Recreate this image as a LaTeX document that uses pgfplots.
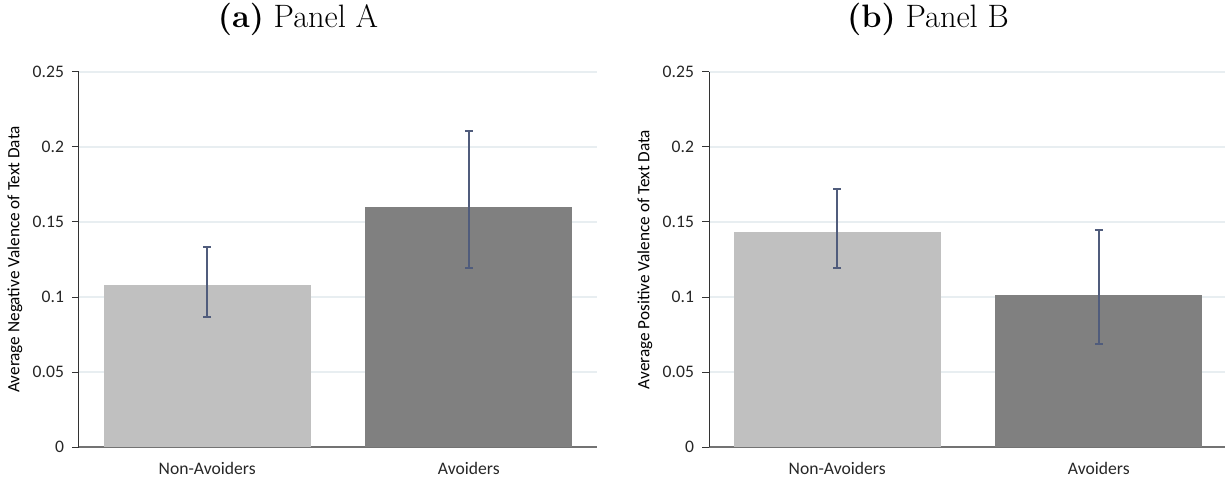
\documentclass[border=0pt]{standalone}
\usepackage{pgfplots}
\pgfplotsset{compat=1.18}
\usepackage{fontspec}
\setsansfont{Carlito}
\definecolor{lightbar}{HTML}{C0C0C0}
\definecolor{darkbar}{HTML}{808080}
\definecolor{errc}{HTML}{505C7C}
\definecolor{gridc}{HTML}{E8EEF1}
\pgfplotsset{
  panel/.style={
    scale only axis,
    width=259pt, height=187.5pt,
    xmin=-0.49, xmax=1.49, ymin=0, ymax=0.25,
    axis lines*=left,
    x axis line style={-, draw=black!55, line width=1.1pt},
    y axis line style={-, draw=black!80, line width=0.5pt},
    xtick={0,1}, xticklabels={Non-Avoiders,Avoiders},
    xtick style={draw=none},
    ytick={0,0.05,0.1,0.15,0.2,0.25},
    yticklabels={0,0.05,0.1,0.15,0.2,0.25},
    ytick style={draw=black!80, line width=0.5pt},
    tick align=outside, major tick length=3.5pt,
    ymajorgrids, grid style={gridc, line width=0.6pt},
    ticklabel style={font=\sffamily\fontsize{8.8}{10}\selectfont, text=black!85},
    yticklabel style={xshift=-0.5pt},
    xticklabel style={yshift=-0.5pt},
    ylabel style={at={(axis description cs:-0.1236,0.5)}, anchor=center, rotate=0, font=\sffamily\fontsize{8.6}{10}\selectfont},
  },
  barA/.style={ybar, bar width=103.5pt, bar shift=0pt, draw=none, fill=lightbar,
    error bars/.cd, y dir=both, y explicit,
    error bar style={errc, line width=0.9pt},
    error mark options={errc, rotate=90, mark size=2pt, line width=0.9pt}},
  barB/.style={ybar, bar width=103.5pt, bar shift=0pt, draw=none, fill=darkbar,
    error bars/.cd, y dir=both, y explicit,
    error bar style={errc, line width=0.9pt},
    error mark options={errc, rotate=90, mark size=2pt, line width=0.9pt}},
}
\begin{document}
\begin{tikzpicture}
\useasboundingbox (-39.5pt,-15pt) rectangle (573pt,223.5pt);
\begin{axis}[panel, at={(0pt,0pt)}, anchor=south west,
  ylabel={Average Negative Valence of Text Data}]
\addplot[barA] coordinates {(0,0.108) += (0,0.0253) -= (0,0.0213)};
\addplot[barB] coordinates {(1,0.160) += (0,0.0507) -= (0,0.0407)};
\end{axis}
\begin{axis}[panel, at={(315pt,0pt)}, anchor=south west,
  ylabel={Average Positive Valence of Text Data}]
\addplot[barA] coordinates {(0,0.1433) += (0,0.0287) -= (0,0.0240)};
\addplot[barB] coordinates {(1,0.1013) += (0,0.0434) -= (0,0.0326)};
\end{axis}
\node[anchor=base, font=\fontsize{16.2}{19}\selectfont] at (109.5pt,209.5pt) {\textbf{(a)} Panel A};
\node[anchor=base, font=\fontsize{16.2}{19}\selectfont] at (424.5pt,209.5pt) {\textbf{(b)} Panel B};
\end{tikzpicture}
\end{document}
